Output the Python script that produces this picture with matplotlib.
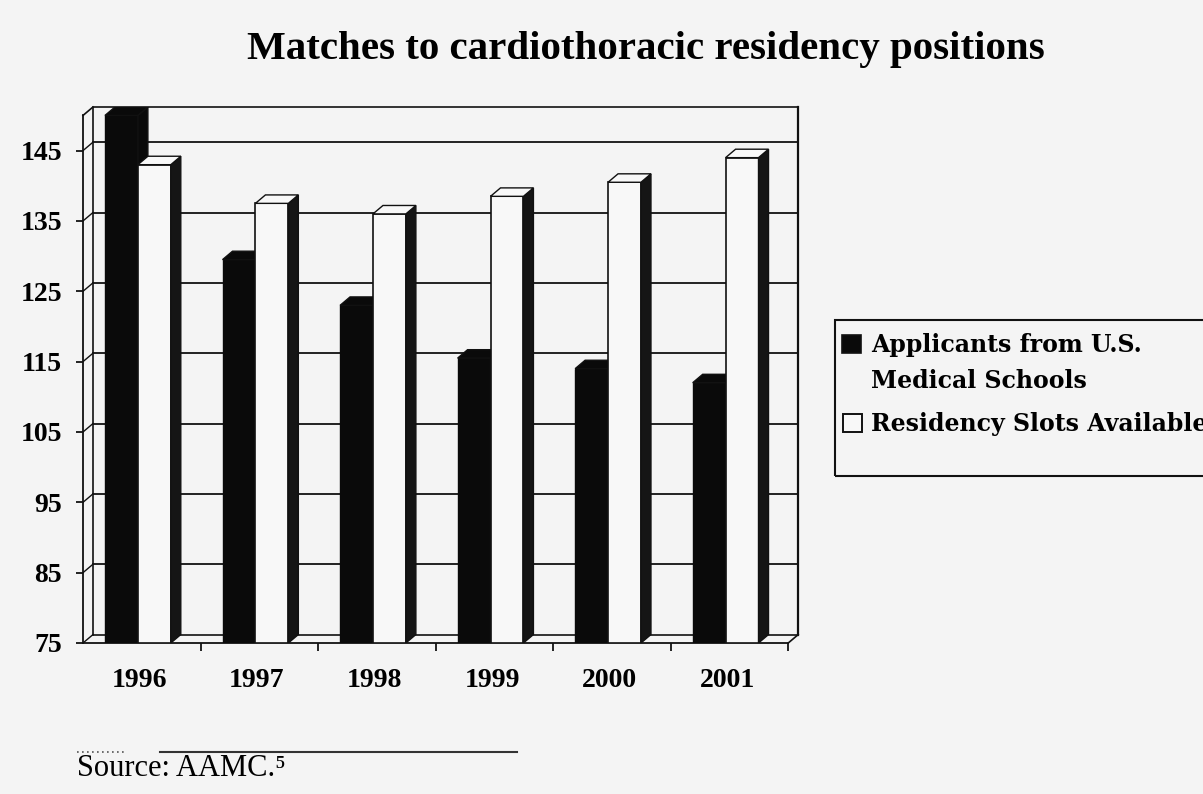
import numpy as np
import matplotlib
matplotlib.use("Agg")
import matplotlib.pyplot as plt
from matplotlib.patches import Polygon, Rectangle
from matplotlib.lines import Line2D

# ==============================
# DATA
# ==============================
years = ["1996", "1997", "1998", "1999", "2000", "2001"]
applicants = [150, 129.5, 123, 115.5, 114, 112]
slots = [143, 137.5, 136, 138.5, 140.5, 144]
y_ticks = [75, 85, 95, 105, 115, 125, 135, 145]
labels = ["Applicants from U.S.\nMedical Schools", "Residency Slots Available"]

# ==============================
# STYLE
# ==============================
bg = "#f4f4f4"
serif = ["Liberation Serif", "DejaVu Serif"]
wide_serif = ["DejaVu Serif", "Liberation Serif"]
plt.rcParams["font.family"] = serif

W, H = 1203, 794
fig = plt.figure(figsize=(W / 100, H / 100), dpi=100, facecolor=bg)
ax = fig.add_axes([83 / W, 151 / H, 717 / W, 536 / H])
ax.set_facecolor(bg)

base = 75
ytop = 150
DX, DY = 0.085, 1.2          # 3D depth offset (category units, value units)
ax.set_xlim(-0.5, 5.6)
ax.set_ylim(base, ytop + DY)

# ==============================
# WALLS / GRID
# ==============================
lc = "#111111"
for v in y_ticks[1:]:
    ax.plot([-0.5 + DX, 5.5 + DX], [v + DY, v + DY], color=lc, lw=1.3, zorder=1)
    ax.plot([-0.5, -0.5 + DX], [v, v + DY], color=lc, lw=1.0, zorder=1)
# back wall frame
ax.plot([-0.5 + DX, 5.5 + DX], [ytop + DY, ytop + DY], color=lc, lw=1.2, zorder=1, clip_on=False)
ax.plot([-0.5 + DX, -0.5 + DX], [base + DY, ytop + DY], color=lc, lw=1.2, zorder=1)
ax.plot([5.5 + DX, 5.5 + DX], [base + DY, ytop + DY], color=lc, lw=1.6, zorder=1, clip_on=False)
ax.plot([-0.5, -0.5 + DX], [ytop, ytop + DY], color=lc, lw=1.2, zorder=1, clip_on=False)
# floor
ax.plot([-0.5 + DX, 5.5 + DX], [base + DY, base + DY], color=lc, lw=1.2, zorder=1)
ax.plot([5.5, 5.5 + DX], [base, base + DY], color=lc, lw=1.2, zorder=1, clip_on=False)
ax.plot([-0.5, -0.5 + DX], [base, base + DY], color=lc, lw=1.0, zorder=1)

# ==============================
# BARS (front faces + 3D side/top)
# ==============================
x = np.arange(len(years))
w = 0.28
x_black = x - 0.313
x_white = x_black + w

def faces(x0, v, face, side, z):
    top = Polygon([(x0, v), (x0 + w, v), (x0 + w + DX, v + DY), (x0 + DX, v + DY)],
                  closed=True, facecolor=face, edgecolor=lc, lw=1.0, zorder=z)
    sd = Polygon([(x0 + w, base), (x0 + w, v), (x0 + w + DX, v + DY), (x0 + w + DX, base + DY)],
                 closed=True, facecolor=side, edgecolor=lc, lw=1.0, zorder=z)
    ax.add_patch(sd)
    ax.add_patch(top)

ax.bar(x_black, np.array(applicants) - base, bottom=base, width=w, align="edge",
       color="#0a0a0a", edgecolor="#0a0a0a", lw=1.0, zorder=3)
ax.bar(x_white, np.array(slots) - base, bottom=base, width=w, align="edge",
       color="#f8f8f8", edgecolor=lc, lw=1.2, zorder=4)
for i in range(len(years)):
    faces(x_black[i], applicants[i], "#0a0a0a", "#0a0a0a", 3)
    faces(x_white[i], slots[i], "#f8f8f8", "#151515", 4)

# ==============================
# AXES / TICKS
# ==============================
for s in ["top", "right"]:
    ax.spines[s].set_visible(False)
ax.spines["left"].set_bounds(base, ytop)
ax.spines["bottom"].set_bounds(-0.5, 5.5)
for s in ["left", "bottom"]:
    ax.spines[s].set_color(lc)
    ax.spines[s].set_linewidth(1.3)

ax.set_yticks(y_ticks)
ax.set_yticklabels([str(t) for t in y_ticks], fontsize=20, fontweight="bold")
ax.tick_params(axis="y", direction="out", length=5, width=1.2, pad=10)

ax.set_xticks(list(x[:-1] + 0.5) + [5.5])
ax.set_xticklabels([])
ax.set_xticks(x - 0.02, minor=True)
ax.set_xticklabels(years, minor=True, fontsize=20, fontweight="bold")
ax.tick_params(axis="x", which="major", direction="out", length=6, width=1.2)
ax.tick_params(axis="x", which="minor", length=0, pad=18)

# ==============================
# TITLE / LEGEND / SOURCE
# ==============================
fig.text(646 / W, 1 - 50 / H, "Matches to cardiothoracic residency positions",
         ha="center", va="center", fontsize=29.5, fontweight="bold")

fig.add_artist(Rectangle((835 / W, 1 - 476 / H), 400 / W, 156 / H, transform=fig.transFigure,
                         facecolor="none", edgecolor=lc, lw=1.5))
fig.add_artist(Rectangle((842 / W, 1 - 353 / H), 19 / W, 18 / H, transform=fig.transFigure,
                         facecolor="#0a0a0a", edgecolor=lc, lw=1.2))
fig.add_artist(Rectangle((843 / W, 1 - 432 / H), 19 / W, 18 / H, transform=fig.transFigure,
                         facecolor="#f8f8f8", edgecolor=lc, lw=1.4))
leg_lines = labels[0].split("\n") + [labels[1]]
for txt, yy in zip(leg_lines, [345, 381, 424]):
    fig.text(871 / W, 1 - yy / H, txt, ha="left", va="center",
             fontsize=17, fontweight="bold", family=wide_serif)

fig.add_artist(Line2D([160 / W, 517 / W], [1 - 752 / H, 1 - 752 / H], transform=fig.transFigure,
                      color="#333333", lw=1.5))
fig.add_artist(Line2D([77 / W, 125 / W], [1 - 752 / H, 1 - 752 / H], transform=fig.transFigure,
                      color="#555555", lw=1.2, ls=(0, (1, 2))))
fig.text(77 / W, 1 - 769 / H, "Source: AAMC.\u2075", ha="left", va="center", fontsize=22)

fig.savefig("out.png", dpi=100, facecolor=bg)
